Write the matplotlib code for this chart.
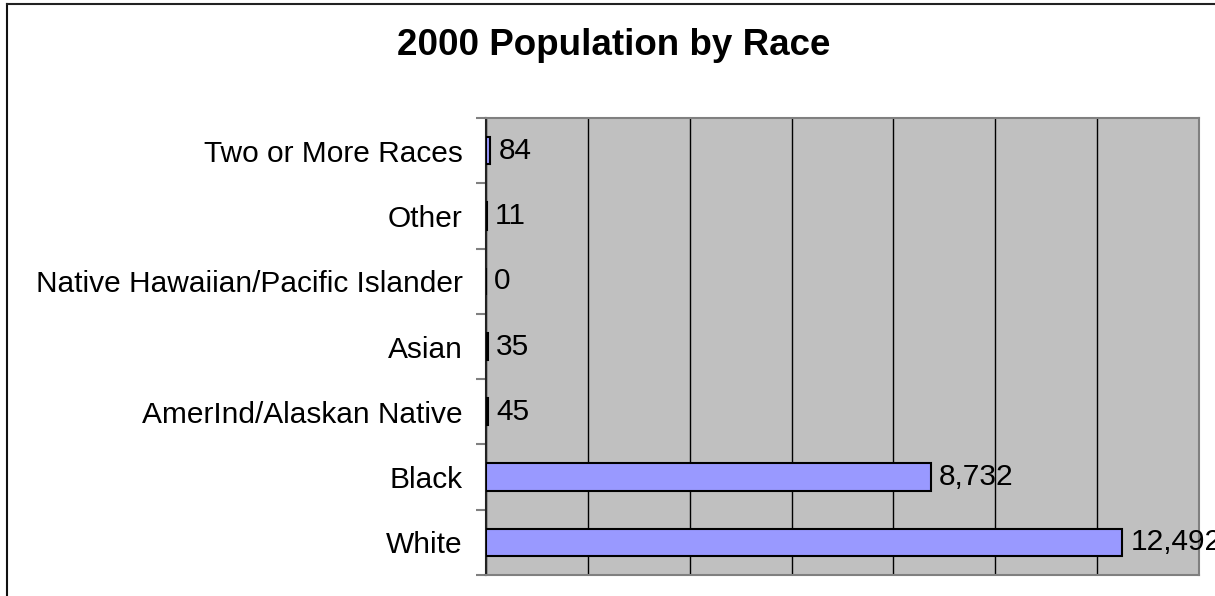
import matplotlib
matplotlib.use("Agg")
import matplotlib.pyplot as plt
from matplotlib.lines import Line2D
from matplotlib.ticker import MultipleLocator

title = "2000 Population by Race"
categories = ["White", "Black", "AmerInd/Alaskan Native", "Asian",
              "Native Hawaiian/Pacific Islander", "Other", "Two or More Races"]
values = [12492, 8732, 45, 35, 0, 11, 84]
value_labels = ["12,492", "8,732", "45", "35", "0", "11", "84"]

plt.rcParams['font.family'] = ['Liberation Sans', 'DejaVu Sans']

W, H = 1215, 596
fig = plt.figure(figsize=(W / 100, H / 100), dpi=100)
fig.patch.set_facecolor("white")

left, right, top, bottom = 486, 1199, 118, 575
ax = fig.add_axes([left / W, 1 - bottom / H, (right - left) / W, (bottom - top) / H])
ax.set_facecolor("#C0C0C0")

y = list(range(len(categories)))
ax.barh(y, values, height=0.42, color="#9999FF", edgecolor="black", linewidth=1.5, zorder=3)

ax.set_xlim(0, 14000)
ax.set_ylim(-0.5, len(categories) - 0.5)
ax.xaxis.set_major_locator(MultipleLocator(2000))
ax.grid(axis="x", color="black", linewidth=1.0, zorder=1)
ax.tick_params(axis="x", which="both", length=0, labelbottom=False)

# y ticks at category boundaries, labels at centers
ax.set_yticks([i - 0.5 for i in range(len(categories) + 1)])
ax.set_yticklabels([])
ax.set_yticks(y, minor=True)
ax.set_yticklabels(categories, minor=True, fontsize=21.5)
ax.tick_params(axis="y", which="major", length=7, width=1.5, color="#808080", direction="out")
ax.tick_params(axis="y", which="minor", length=0, pad=17)

for sp in ["top", "right", "bottom"]:
    ax.spines[sp].set_color("#808080")
    ax.spines[sp].set_linewidth(1.5)
ax.spines["left"].set_color("#222222")
ax.spines["left"].set_linewidth(1.5)

for yi, v, lab in zip(y, values, value_labels):
    ax.annotate(lab, (v, yi), xytext=(6, 0), textcoords="offset points",
                va="center", ha="left", fontsize=21.5, zorder=4, annotation_clip=False)

fig.text(614 / W, 1 - 55 / H, title, ha="center", va="baseline", fontsize=26.5, fontweight="bold")

# outer chart frame (left and top edges visible)
fig.add_artist(Line2D([7 / W, 7 / W], [0, 1 - 4 / H], transform=fig.transFigure, color="#111111", linewidth=1.5))
fig.add_artist(Line2D([7 / W, 1], [1 - 4 / H, 1 - 4 / H], transform=fig.transFigure, color="#222222", linewidth=1.5))

fig.savefig("out.png", dpi=100)
